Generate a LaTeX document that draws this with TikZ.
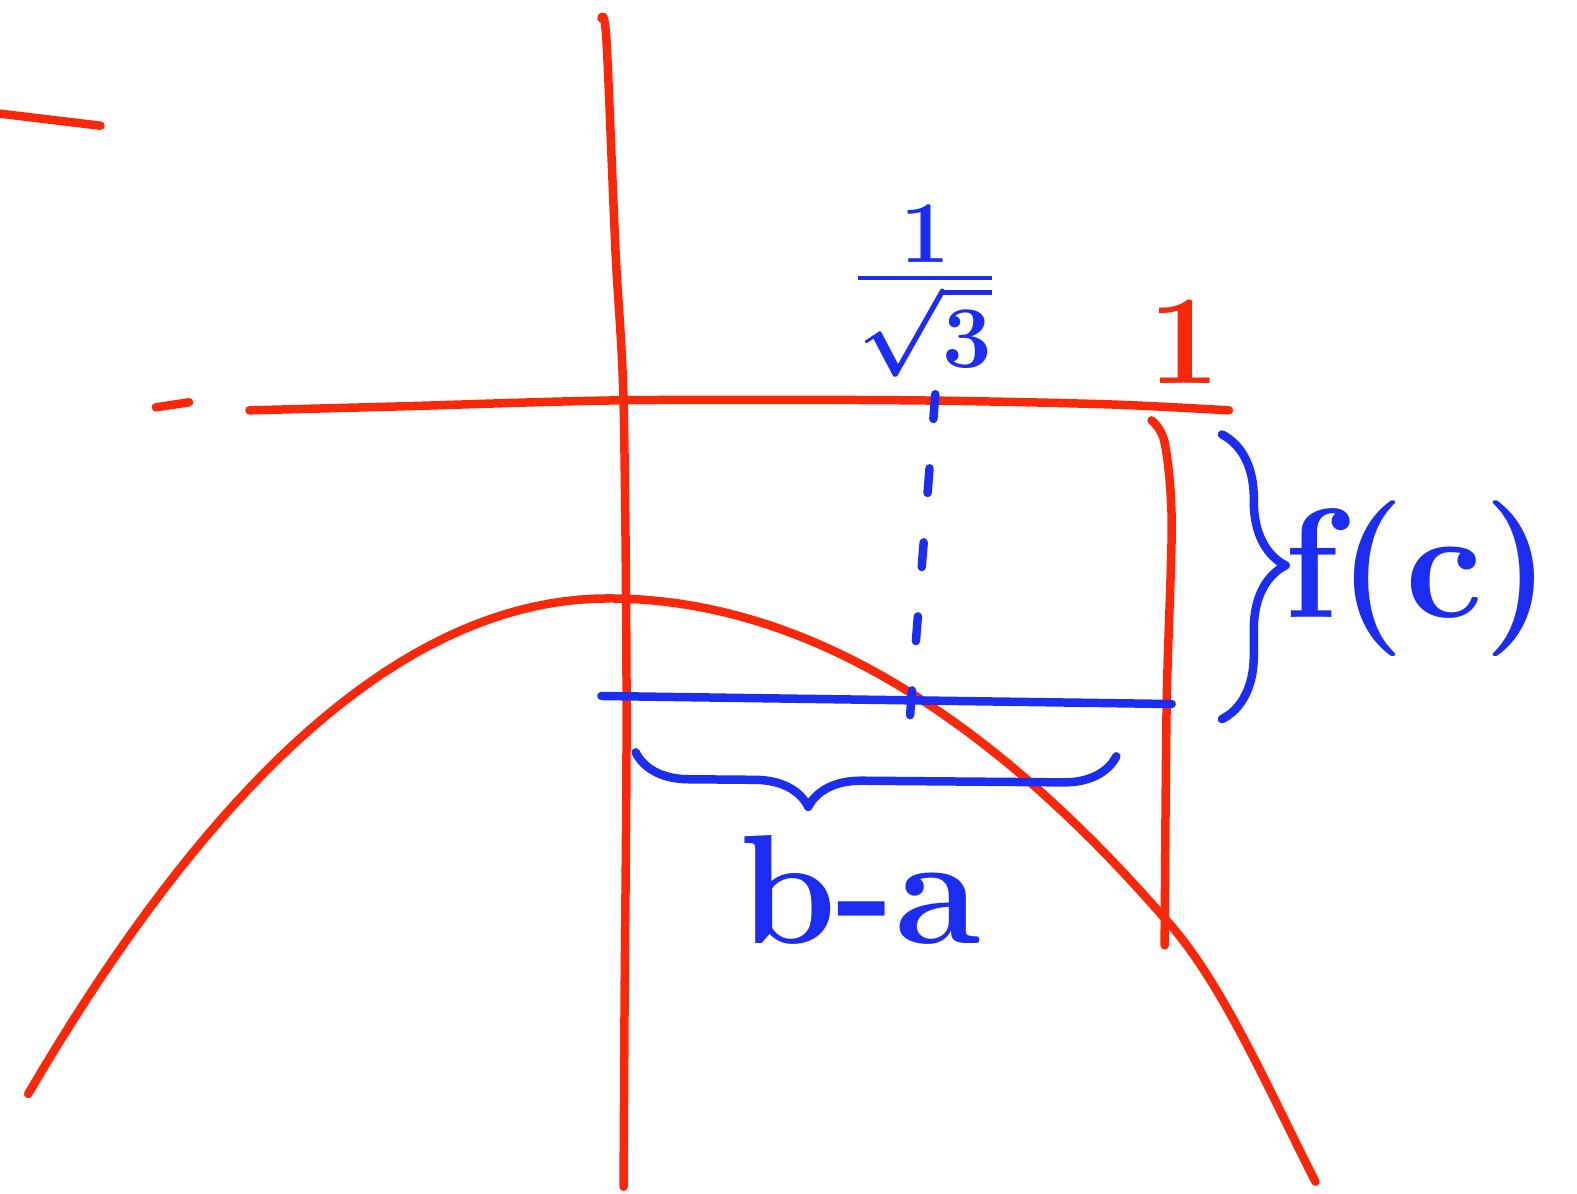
\documentclass[tikz,border=0pt]{standalone}
\usepackage{amsmath,amssymb}
\usepackage{tikz}
\usetikzlibrary{decorations.pathreplacing}
\definecolor{penred}{RGB}{250,40,10}
\definecolor{penblue}{RGB}{28,44,240}
\tikzset{
  redline/.style={
    draw=penred, line width=2.4pt, line cap=round, line join=round
  },
  blueline/.style={
    draw=penblue, line width=2.4pt, line cap=round, line join=round
  },
  dotline/.style={
    blueline, dash pattern=on 7pt off 14pt
  },
  bluebrace/.style={
    blueline, decorate, decoration={brace, amplitude=#1}
  },
  lbl/.style={
    inner sep=0pt, text=penblue, font=\fontsize{44}{50}\selectfont\bfseries
  },
  redlbl/.style={
    inner sep=0pt, text=penred, font=\fontsize{36}{40}\selectfont\bfseries
  },
}

\begin{document}
\begin{tikzpicture}[x=0.01cm, y=-0.01cm]
  \useasboundingbox (0,0) rectangle (1568,1187);

  \draw[redline] (0,113) -- (100,125);
  \draw[redline] (155,405) -- (188,400);
  \draw[redline] plot[smooth] coordinates {(248,408) (400,404) (620,398)
    (900,398) (1100,402) (1222,408)};
  \draw[redline] plot[smooth] coordinates {(598,18) (603,40) (612,250)
    (620,400) (623,700) (621,1000) (620,1180)};
  \draw[redline] plot[smooth] coordinates {(1145,418) (1158,440) (1165,520)
    (1160,700) (1158,940)};
  \draw[redline] plot[domain=28:605, samples=40]
    (\x, {595+14.8*((\x-605)/100)^2})
    -- plot[domain=605:1160, samples=40]
    (\x, {595+10.4*((\x-605)/100)^2})
    .. controls (1215,976) and (1262,1085) .. (1308,1175);

  \draw[blueline] (598,692) -- (1165,700);
  \draw[dotline] (930,392) -- (903,735);

  \coordinate (bt) at (1215,432);
  \coordinate (bb) at (1215,715);
  \draw[bluebrace=18pt, decoration={aspect=0.46}] (bt) -- (bb);
  \coordinate (bl) at (632,748);
  \coordinate (br) at (1110,752);
  \draw[bluebrace=15pt, decoration={mirror, aspect=0.36}] (bl) -- (br);

  \node[lbl, font=\fontsize{30}{36}\selectfont\boldmath] (root) at (920,290)
    {$\frac{\textstyle 1}{\textstyle\sqrt{3}}$};
  \node[redlbl] (one) at (1178,340) {1};
  \node[lbl] (fc) at (1410,575) {f(c)};
  \node[lbl] (ba) at (855,885) {b-a};
\end{tikzpicture}
\end{document}
